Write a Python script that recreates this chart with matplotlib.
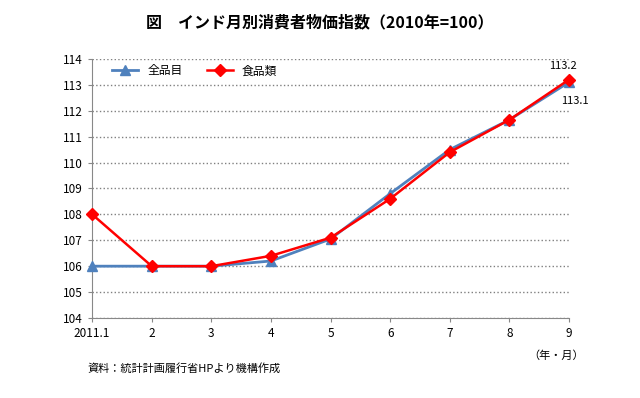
import matplotlib
matplotlib.use("Agg")
import matplotlib.pyplot as plt

plt.rcParams["font.family"] = ["Noto Sans CJK JP", "DejaVu Sans"]

months = ["2011.1", "2", "3", "4", "5", "6", "7", "8", "9"]
all_items = [106.0, 106.0, 106.0, 106.2, 107.05, 108.8, 110.5, 111.65, 113.1]
food = [108.0, 106.0, 106.0, 106.4, 107.1, 108.6, 110.4, 111.65, 113.2]

BLUE = "#4F81BD"
RED = "#FF0000"

fig = plt.figure(figsize=(6.4, 3.98), dpi=100)
ax = fig.add_axes([0.144, 0.201, 0.745, 0.651])

x = list(range(len(months)))
ax.plot(x, all_items, color=BLUE, lw=2, marker="^", ms=7, label="全品目", clip_on=False, zorder=3)
ax.plot(x, food, color=RED, lw=1.8, marker="D", ms=6, label="食品類", clip_on=False, zorder=4)

ax.set_xlim(0, len(months) - 1)
ax.set_ylim(104, 114)
ax.set_yticks(range(104, 115))
ax.set_xticks(x)
ax.set_xticklabels(months)
ax.tick_params(labelsize=8.5, length=3, color="#888888")
ax.yaxis.grid(True, linestyle=":", color="#808080", lw=1)
ax.set_axisbelow(True)
for s in ["top", "right"]:
    ax.spines[s].set_visible(False)
for s in ["left", "bottom"]:
    ax.spines[s].set_color("#888888")

ax.annotate(f"{food[-1]:.1f}", (x[-1], food[-1]), xytext=(-14, 8),
            textcoords="offset points", fontsize=8)
ax.annotate(f"{all_items[-1]:.1f}", (x[-1], all_items[-1]), xytext=(-6, -16),
            textcoords="offset points", fontsize=8)

ax.legend(loc="upper left", ncol=2, frameon=False, fontsize=8.5,
          bbox_to_anchor=(0.02, 1.02), handlelength=2.2, columnspacing=2)

fig.text(0.5, 0.945, "図\u3000インド月別消費者物価指数（2010年=100）",
         ha="center", va="center", fontsize=11.5, fontweight="bold")
fig.text(0.825, 0.107, "（年・月）", ha="left", va="center", fontsize=8)
fig.text(0.137, 0.075, "資料：統計計画履行省HPより機構作成", ha="left", va="center", fontsize=8)

fig.savefig("out.png", dpi=100)
